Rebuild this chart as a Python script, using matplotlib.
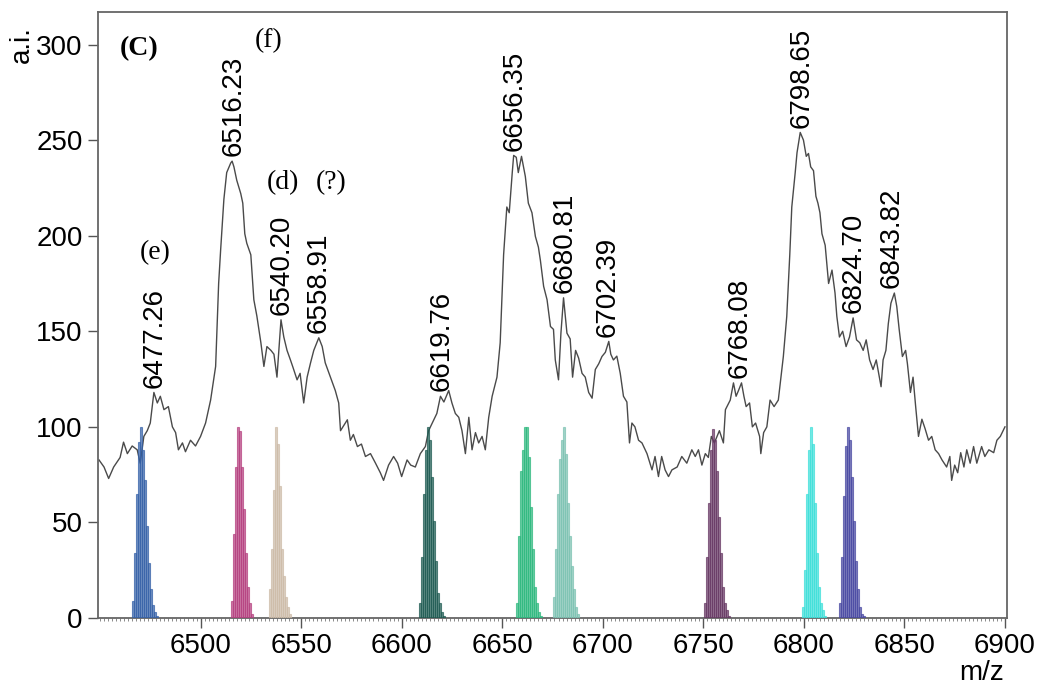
import matplotlib
matplotlib.use('Agg')
import matplotlib.pyplot as plt
from matplotlib.ticker import MultipleLocator, FixedLocator

# ---------------- data ----------------
mz = [6449.5, 6452, 6454.3, 6456.8, 6460, 6461.7, 6463.6, 6466, 6468.5, 6470,
      6471.8, 6473.5, 6475, 6476.8, 6478.5, 6480, 6481.8, 6484, 6486, 6487.6,
      6489, 6491, 6492.5, 6495, 6497.5, 6500, 6502.5, 6505, 6507.5, 6509,
      6510, 6511.6, 6513, 6515, 6515.7, 6516.6, 6518, 6520, 6521, 6522,
      6523, 6525, 6526.5, 6528, 6530, 6531.5, 6533, 6535, 6536.5, 6538,
      6540, 6541.4, 6543, 6544.7, 6546, 6548, 6549.5, 6551.3, 6553, 6554.7,
      6556.3, 6558.8, 6560.5, 6562, 6564.6, 6567, 6568.7, 6569.6, 6573, 6574.5,
      6576, 6578, 6580, 6582, 6584.5, 6587, 6589.4, 6591, 6593.5, 6596,
      6598, 6600, 6602.7, 6604.5, 6606.8, 6609.3, 6611.8, 6613.4, 6616, 6617.5,
      6619.3, 6621, 6623.4, 6625, 6626.7, 6628.4, 6630, 6631.7, 6633.4, 6635,
      6636.7, 6638.3, 6640, 6641.6, 6643.3, 6645, 6647.4, 6649, 6650.7, 6652.3,
      6653.5, 6655, 6655.7, 6657, 6658, 6659.6, 6661.5, 6663, 6664.8, 6666.5,
      6668, 6669, 6670.6, 6672.3, 6674, 6675.5, 6676.4, 6678, 6679.2, 6680.5,
      6682.2, 6683.8, 6685, 6686.5, 6688, 6689.7, 6691.3, 6693, 6694.7, 6696.3,
      6698, 6699.6, 6701.3, 6703, 6704, 6705.3, 6707, 6708.7, 6710.3, 6712,
      6713.3, 6714.5, 6716, 6717.8, 6719.5, 6722, 6724.5, 6726, 6727.7, 6729.3,
      6731, 6732.7, 6734.4, 6737, 6739.3, 6741.8, 6744.3, 6746, 6747.6, 6749.3,
      6751, 6752.5, 6754, 6755.5, 6758, 6760, 6761, 6763.4, 6765, 6766.3,
      6767.5, 6769, 6770.2, 6771.3, 6773, 6774.4, 6776, 6778, 6778.6, 6780,
      6781.6, 6783.2, 6785.2, 6787.3, 6789.8, 6791.5, 6793, 6794, 6795.7, 6796.6,
      6798.2, 6799.8, 6801.2, 6802.3, 6803.4, 6804.8, 6806, 6807, 6808, 6809,
      6810.6, 6812.3, 6814, 6815.5, 6816.4, 6817.7, 6819.3, 6821, 6822.7, 6824.5,
      6826.2, 6827.8, 6829.5, 6831, 6832.7, 6834.4, 6836, 6838.4, 6839.4, 6840.8,
      6842, 6843.3, 6845, 6846.2, 6847.4, 6849, 6850.6, 6851.5, 6853, 6854.3,
      6855.6, 6857, 6858.7, 6860.3, 6862, 6863.6, 6865.3, 6867, 6868.7, 6871,
      6872.6, 6873.5, 6875, 6876.5, 6878, 6879.6, 6881, 6882.7, 6884.4, 6886,
      6888.4, 6890, 6892, 6894.4, 6896, 6897.7, 6900]
intensity = [82.7, 79, 73, 79, 84, 92, 86, 90, 88, 81,
             95, 98, 102, 118, 112.5, 116, 109, 110.6, 100, 97,
             88, 91.6, 87, 93, 90, 95, 102, 114, 131.6, 175,
             192.7, 219, 233, 238, 239, 236, 229, 222, 217, 201,
             196, 190, 166.5, 158, 144, 131.6, 142, 140, 138, 126,
             156, 147, 140, 135, 131, 124.6, 128, 112.5, 126, 133.5,
             140, 146.6, 142, 133.5, 126, 119, 112.5, 98, 103.7, 93,
             96, 89.7, 91, 84.5, 86, 81, 76, 72, 80, 84.5,
             81, 74, 82.7, 80, 79, 86, 89.7, 98, 103.7, 107,
             116, 113, 119, 112.5, 107, 105, 98, 86, 105, 88,
             97, 91.6, 95, 88, 105, 116, 126, 144, 190, 215,
             212, 233, 242, 241, 233, 241.5, 231, 217, 212, 199.6,
             194, 187, 173.5, 166.5, 152.5, 151, 135, 124.6, 149, 167.5,
             149, 146, 126, 140, 136, 128, 126, 118, 115, 130,
             133, 136.8, 139, 144.7, 138, 135, 137, 128, 116, 113,
             91.6, 102, 100, 93, 91.6, 86, 77.5, 84.5, 74, 84.5,
             77.5, 74, 77.5, 79, 84.5, 81, 88, 84.5, 88, 80,
             86, 84, 95, 91.6, 98, 91.6, 109, 114, 123, 116,
             119, 123, 116, 110.6, 112.5, 100, 102, 95, 86, 97,
             100, 114, 110.6, 114, 136.8, 157.8, 190, 215, 233, 243.4,
             254, 250, 241.5, 243, 236, 234, 220.6, 217, 212, 201,
             195, 175, 182, 170, 157.8, 147, 150, 142, 147, 157,
             145.5, 144, 140, 145.5, 135, 130, 135, 121, 135, 140,
             154, 164.7, 170, 163, 151, 136.8, 140, 133, 118, 126,
             110.6, 95, 104, 99, 93, 95, 88, 86, 82.7, 79,
             84.5, 72, 80, 76, 86.5, 79, 88, 81, 89.7, 81,
             89.7, 84.5, 88, 86.5, 93, 95, 100]

peak_labels = ["6477.26", "6516.23", "6540.20", "6558.91", "6619.76", "6656.35",
               "6680.81", "6702.39", "6768.08", "6798.65", "6824.70", "6843.82"]
peak_mz = [6477.26, 6516.23, 6540.20, 6558.91, 6619.76, 6656.35,
           6680.81, 6702.39, 6768.08, 6798.65, 6824.70, 6843.82]

x_ticks = [6500, 6550, 6600, 6650, 6700, 6750, 6800, 6850, 6900]
y_ticks = [0, 50, 100, 150, 200, 250, 300]

# theoretical isotope clusters: first isotope m/z and relative heights (1 Da steps)
cluster_start = [6466.2, 6515.7, 6534.3, 6609.0, 6657.4, 6675.6, 6751.0, 6799.7, 6818.0]
iso_blue = [9, 34, 65, 92, 100, 88, 72, 48, 29, 15, 7, 3, 1]
iso_magenta = [9, 44, 79, 100, 98, 79, 57, 34, 16, 8, 2]
iso_beige = [15, 36, 67, 100, 91, 69, 36, 22, 11, 6, 2]
iso_darkteal = [8, 32, 65, 88, 100, 93, 74, 51, 30, 13, 8, 3, 1]
iso_green = [8, 43, 77, 88, 100, 100, 84, 58, 36, 16, 8, 3, 1]
iso_lightteal = [11, 36, 65, 83, 93, 100, 86, 60, 43, 27, 15, 6, 2]
iso_purple = [8, 32, 60, 88, 99, 93, 77, 53, 34, 16, 8, 4, 1]
iso_cyan = [6, 25, 65, 88, 100, 91, 60, 34, 16, 8, 4, 1]
iso_navy = [8, 32, 64, 90, 100, 93, 74, 51, 30, 15, 6, 2, 1]
cluster_heights = [iso_blue, iso_magenta, iso_beige, iso_darkteal, iso_green,
                   iso_lightteal, iso_purple, iso_cyan, iso_navy]
cluster_colors = ['#3561A8', '#B5407F', '#CDBBA8', '#1E5B52', '#2DB87E',
                  '#7CC2B2', '#673864', '#3EE0DA', '#4848A2']

# ---------------- figure ----------------
plt.rcParams['font.family'] = ['Liberation Sans', 'DejaVu Sans']
fig = plt.figure(figsize=(10.38, 6.9), dpi=100)
ax = fig.add_axes([0.0944, 0.1043, 0.8757, 0.8783])

ax.plot(mz, intensity, color='#4a4a4a', lw=1.0, zorder=2)

for start, hts, col in zip(cluster_start, cluster_heights, cluster_colors):
    xs = [start + i for i in range(len(hts))]
    ax.bar(xs, hts, width=1.0, color=col, alpha=0.7, edgecolor=col,
           linewidth=0.8, zorder=3)

for lab, pm in zip(peak_labels, peak_mz):
    top = max(v for m, v in zip(mz, intensity) if abs(m - pm) <= 1.6)
    ax.text(pm, top + 2.5, lab, rotation=90, ha='center', va='bottom',
            fontsize=20, zorder=4)

serif = ['Liberation Serif', 'DejaVu Serif']
ax.text(6469.7, 298, '(C)', family=serif, fontweight='bold', fontsize=20,
        ha='center', va='center')
ax.text(6533.8, 302, '(f)', family=serif, fontsize=20, ha='center', va='center')
ax.text(6541.2, 228, '(d)', family=serif, fontsize=20, ha='center', va='center')
ax.text(6565.0, 228, '(?)', family=serif, fontsize=20, ha='center', va='center')
ax.text(6477.6, 191, '(e)', family=serif, fontsize=20, ha='center', va='center')

ax.set_xlim(6449, 6901)
ax.set_ylim(0, 317)
ax.xaxis.set_major_locator(FixedLocator(x_ticks))
ax.xaxis.set_minor_locator(MultipleLocator(2))
ax.yaxis.set_major_locator(FixedLocator(y_ticks))
ax.tick_params(axis='both', which='major', direction='out', length=7, width=1,
               color='#555555', labelsize=20, pad=4)
ax.tick_params(axis='x', which='minor', direction='out', length=1.8, width=0.6,
               color='#777777')
for s in ax.spines.values():
    s.set_color('#666666')
    s.set_linewidth(1.3)

fig.text(0.021, 0.935, 'a.i.', rotation=90, ha='center', va='center', fontsize=20)
fig.text(0.946, 0.024, 'm/z', ha='center', va='center', fontsize=20)

fig.savefig('out.png', dpi=100)
